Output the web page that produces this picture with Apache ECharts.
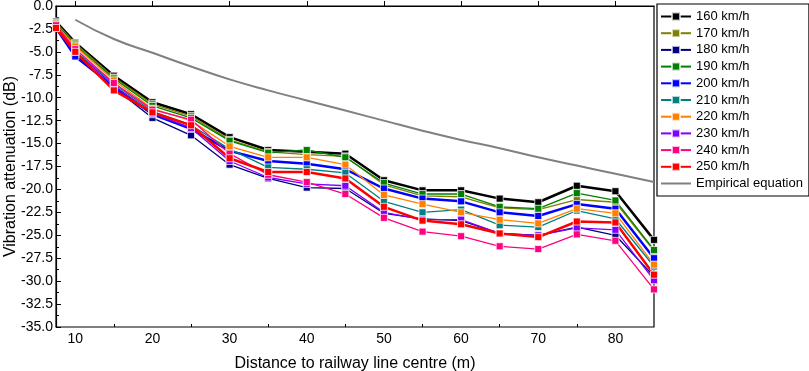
<!DOCTYPE html>
<html>
<head>
<meta charset="utf-8">
<script src="https://cdn.jsdelivr.net/npm/echarts@6/dist/echarts.min.js"></script>
<style>
  html, body { margin: 0; padding: 0; background: #fff; }
  #main { width: 809px; height: 371px; }
</style>
</head>
<body>
<div id="main"></div>
<script>
// distance (m)
var distances = [7.5, 10, 15, 20, 25, 30, 35, 40, 45, 50, 55, 60, 65, 70, 75, 80, 85];

var v160 = [-1.7, -4.0, -7.6, -10.5, -11.8, -14.3, -15.7, -15.9, -16.1, -19.0, -20.1, -20.1, -21.0, -21.4, -19.6, -20.2, -25.5];
var v170 = [-1.8, -4.1, -7.8, -10.7, -12.0, -14.6, -15.9, -16.2, -16.4, -19.5, -20.7, -20.8, -22.0, -22.2, -21.1, -21.4, -26.7];
var v180 = [-2.3, -5.3, -8.9, -12.2, -14.1, -17.3, -18.8, -19.8, -19.9, -22.6, -23.2, -23.4, -24.8, -25.0, -24.1, -25.0, -29.5];
var v190 = [-1.9, -4.3, -7.9, -10.9, -12.2, -14.7, -16.0, -15.7, -16.5, -19.3, -20.5, -20.5, -21.9, -22.1, -20.4, -21.2, -26.6];
var v200 = [-2.4, -5.5, -8.8, -11.8, -13.4, -15.8, -16.9, -17.2, -17.8, -19.9, -21.0, -21.3, -22.5, -22.9, -21.6, -22.1, -27.5];
var v210 = [-2.2, -4.9, -8.5, -11.5, -13.0, -15.6, -17.6, -17.8, -18.2, -21.3, -22.5, -22.2, -23.9, -24.1, -22.3, -23.2, -28.4];
var v220 = [-2.0, -4.4, -8.1, -11.2, -12.5, -15.3, -16.5, -16.5, -17.3, -20.6, -21.6, -22.5, -23.3, -23.7, -22.1, -22.6, -28.2];
var v230 = [-2.2, -5.0, -8.7, -11.7, -13.3, -16.9, -18.7, -19.4, -19.6, -22.5, -23.3, -23.3, -24.8, -25.0, -24.2, -24.4, -29.9];
var v240 = [-2.1, -4.7, -8.4, -11.3, -12.4, -16.1, -18.4, -19.2, -20.5, -23.1, -24.6, -25.1, -26.2, -26.5, -24.9, -25.6, -30.9];
var v250 = [-2.4, -5.0, -9.2, -11.6, -13.0, -16.6, -18.1, -18.1, -18.8, -21.9, -23.4, -23.8, -24.8, -25.2, -23.5, -23.6, -29.3];

// empirical curve (starts at 10 m)
var empDist = [10, 15, 20, 25, 30, 35, 40, 45, 50, 55, 60, 65, 70, 75, 80, 85];
var empVals = [-1.5, -3.6, -5.1, -6.6, -8.0, -9.2, -10.3, -11.4, -12.5, -13.6, -14.6, -15.5, -16.5, -17.4, -18.3, -19.2];

var xMajor = [10, 20, 30, 40, 50, 60, 70, 80];
var xMinor = [15, 25, 35, 45, 55, 65, 75];

var names  = ['160 km/h', '170 km/h', '180 km/h', '190 km/h', '200 km/h', '210 km/h', '220 km/h', '230 km/h', '240 km/h', '250 km/h'];
var values = [v160, v170, v180, v190, v200, v210, v220, v230, v240, v250];
var colors = ['#000000', '#808000', '#000080', '#008000', '#0000ff', '#008080', '#ff8000', '#8000ff', '#ff0080', '#ff0000'];
var widths = [2.5, 1.3, 1.3, 1.3, 2.5, 1.3, 1.3, 1.3, 1.3, 2.5];

function pairs(xs, ys) {
    return xs.map(function (x, i) { return [x, ys[i]]; });
}

var series = [];
for (var i = 0; i < names.length; i++) {
    series.push({
        name: names[i],
        type: 'line',
        data: pairs(distances, values[i]),
        symbol: 'rect',
        symbolSize: 7,
        color: colors[i],
        lineStyle: { width: widths[i], color: colors[i] },
        itemStyle: { color: colors[i], borderColor: 'rgba(255,255,255,0.7)', borderWidth: 1 },
        emphasis: { disabled: true },
        animation: false
    });
}
series.push({
    name: 'Empirical equation',
    type: 'line',
    data: pairs(empDist, empVals),
    symbol: 'none',
    smooth: true,
    color: '#808080',
    lineStyle: { width: 2, color: '#808080' },
    emphasis: { disabled: true },
    animation: false
});

var legendData = names.map(function (n) { return { name: n }; });
legendData.push({ name: 'Empirical equation', itemStyle: { opacity: 0 } });

var chart = echarts.init(document.getElementById('main'));
var font = 'Liberation Sans, Arial, sans-serif';
var option = {
    backgroundColor: '#fff',
    animation: false,
    textStyle: { fontFamily: font },
    grid: {
        left: 56, right: 155, top: 6, bottom: 44,
        outerBoundsMode: 'none',
        containLabel: false,
        show: true, borderColor: '#000', borderWidth: 1.2
    },
    legend: {
        orient: 'vertical',
        left: 657, top: 4,
        padding: [5, 6, 5, 3],
        itemWidth: 30, itemHeight: 10,
        itemGap: 1.7,
        borderColor: '#000', borderWidth: 1.2,
        textStyle: { fontSize: 13, lineHeight: 15, color: '#000', fontFamily: font },
        data: legendData
    },
    xAxis: [{
        type: 'value',
        min: 7.5, max: 85,
        name: 'Distance to railway line centre (m)',
        nameLocation: 'middle',
        nameGap: 29,
        nameMoveOverlap: false,
        nameTextStyle: { fontSize: 16, color: '#000', fontFamily: font },
        axisLine: { lineStyle: { color: '#000', width: 1.2 } },
        axisTick: { inside: true, length: 5, customValues: xMajor, lineStyle: { color: '#000' } },
        axisLabel: { customValues: xMajor, fontSize: 14, color: '#000', margin: 5 },
        splitLine: { show: false }
    }, {
        type: 'value',
        min: 7.5, max: 85,
        position: 'bottom',
        axisLine: { show: false },
        axisTick: { inside: true, length: 3, customValues: xMinor, lineStyle: { color: '#000' } },
        axisLabel: { show: false },
        splitLine: { show: false }
    }],
    yAxis: {
        type: 'value',
        min: -35, max: 0, interval: 2.5,
        name: 'Vibration attenuation (dB)',
        nameLocation: 'middle',
        nameGap: 37,
        nameMoveOverlap: false,
        nameTextStyle: { fontSize: 16, color: '#000', fontFamily: font },
        axisLine: { show: true, lineStyle: { color: '#000', width: 1.2 } },
        axisTick: { show: true, inside: true, length: 5, lineStyle: { color: '#000' } },
        minorTick: { show: true, splitNumber: 2, length: 3, lineStyle: { color: '#000' } },
        axisLabel: {
            fontSize: 14, color: '#000', margin: 3,
            formatter: function (v) { return v.toFixed(1); }
        },
        splitLine: { show: false }
    },
    series: series
};
chart.setOption(option);
</script>
</body>
</html>
